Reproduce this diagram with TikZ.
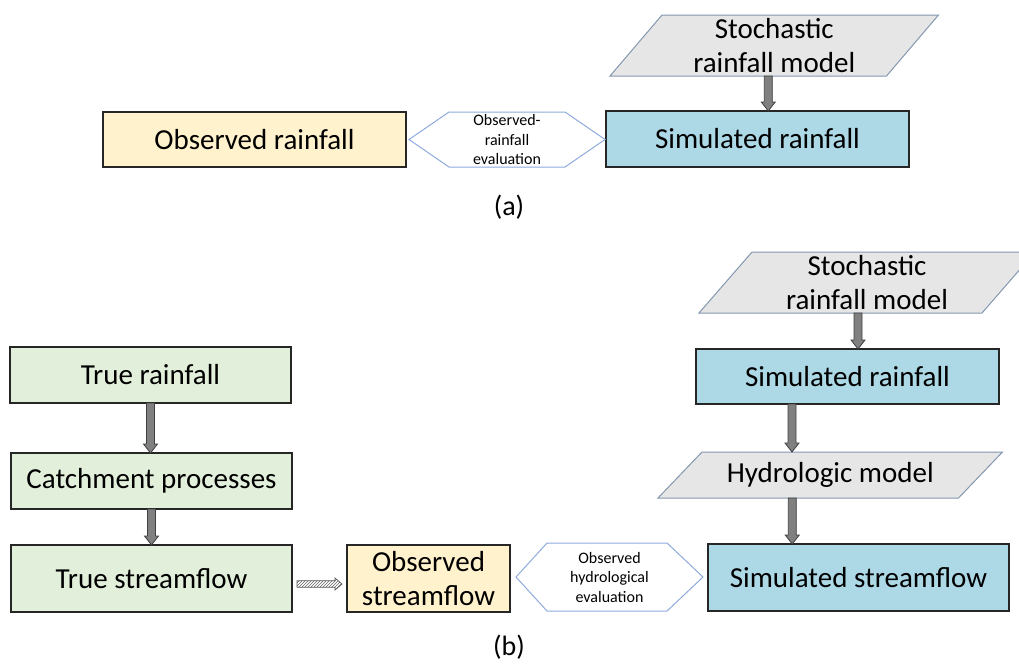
\documentclass[tikz,border=0pt]{standalone}
\usepackage{fontspec}
\setmainfont{Carlito}
\usetikzlibrary{calc,patterns,backgrounds}
\definecolor{obsY}{HTML}{FFF2CC}
\definecolor{simB}{HTML}{ADD8E6}
\definecolor{trueG}{HTML}{E2EFDA}
\definecolor{paraF}{HTML}{E7E6E6}
\definecolor{paraD}{HTML}{8497B0}
\definecolor{hexD}{HTML}{8FAADC}
\definecolor{arrF}{HTML}{808080}
\definecolor{arrD}{HTML}{404040}
\tikzset{
  box/.style={draw=black!85, line width=1.5pt, inner sep=0pt, outer sep=0pt, align=center, font=\fontsize{29}{34}\selectfont},
  para/.style={inner sep=0pt, outer sep=0pt, align=center, font=\fontsize{29}{34}\selectfont},
  paraline/.style={fill=paraF, draw=paraD, line width=1pt},
  hexnode/.style={inner sep=0pt, outer sep=0pt, align=center, font=\fontsize{16}{19.5}\selectfont},
  hexline/.style={draw=hexD, line width=1pt},
  blk/.style={fill=arrF, draw=arrD, line width=0.8pt},
  hatch/.style={pattern=north east lines, pattern color=gray!80!black, draw=gray!70!black, line width=0.7pt},
  lbl/.style={font=\fontsize{28}{32}\selectfont}
}
\newcommand\blkdown[2]{%
  \filldraw[blk] let \p1=#1, \p2=#2 in
    (\x1-4pt,\y1) -- (\x1+4pt,\y1) -- (\x1+4pt,\y2+9pt) -- (\x1+7pt,\y2+9pt) --
    (\x1,\y2) -- (\x1-7pt,\y2+9pt) -- (\x1-4pt,\y2+9pt) -- cycle;}
\begin{document}
\begin{tikzpicture}[x=1pt,y=-1pt]
\useasboundingbox (0,0) rectangle (1019,664);
% ---------- (a)
\node[box, fill=obsY, minimum width=303pt, minimum height=55pt] (obsR) at (254.5,139.5) {Observed rainfall};
\node[box, fill=simB, minimum width=303pt, minimum height=56pt] (simRa) at (757.5,139) {Simulated rainfall};
\node[para, minimum width=276.5pt, minimum height=61pt] (stochA) at (774.25,45.5) {Stochastic\\rainfall model};
\node[hexnode, minimum width=196pt, minimum height=55pt] (hexA) at (507,139.5) {Observed-\\rainfall\\evaluation};
\node[lbl] (la) at (509,207) {(a)};
% ---------- (b)
\node[para, minimum width=283pt, minimum height=61pt] (stochB) at (867,282.5) {Stochastic\\rainfall model};
\node[box, fill=simB, minimum width=303pt, minimum height=55pt] (simRb) at (847.5,376.5) {Simulated rainfall};
\node[para, minimum width=300.5pt, minimum height=46pt] (hydro) at (830.25,475) {Hydrologic model};
\node[box, fill=simB, minimum width=301pt, minimum height=67pt] (simS) at (858.5,577.5) {Simulated streamflow};
\node[hexnode, minimum width=187pt, minimum height=68pt] (hexB) at (609.5,577) {Observed\\hydrological\\evaluation};
\node[box, fill=obsY, minimum width=163pt, minimum height=67pt] (obsS) at (428.5,578.5) {Observed\\streamflow};
\node[box, fill=trueG, minimum width=281pt, minimum height=56pt] (trueR) at (150.5,375) {True rainfall};
\node[box, fill=trueG, minimum width=281pt, minimum height=56pt] (catch) at (151.5,481) {Catchment processes};
\node[box, fill=trueG, minimum width=281pt, minimum height=67pt] (trueS) at (151.5,578.5) {True streamflow};
\node[lbl] (lb) at (509,647) {(b)};
% parallelograms
\begin{pgfonlayer}{background}
\foreach \n/\s in {stochA/26, stochB/26.5, hydro/22}
  \draw[paraline] ([xshift=\s pt]\n.north west) -- ([xshift=\s pt]\n.north east) -- ([xshift=-\s pt]\n.south east) -- ([xshift=-\s pt]\n.south west) -- cycle;
\end{pgfonlayer}
% hexagons
\draw[hexline] (hexA.west) -- ([xshift=40pt]hexA.north west) -- ([xshift=-40pt]hexA.north east) -- (hexA.east) -- ([xshift=-40pt]hexA.south east) -- ([xshift=40pt]hexA.south west) -- cycle;
\draw[hexline] (hexB.west) -- ([xshift=31pt]hexB.north west) -- ([xshift=-36pt]hexB.north east) -- (hexB.east) -- ([xshift=-36pt]hexB.south east) -- ([xshift=31pt]hexB.south west) -- cycle;
% block arrows
\blkdown{([xshift=-6pt]stochA.south)}{(simRa.north)}
\blkdown{([xshift=-9pt]stochB.south)}{(simRb.north)}
\blkdown{([xshift=-55.5pt]simRb.south)}{(hydro.north)}
\blkdown{([xshift=-38pt]hydro.south)}{(simS.north)}
\blkdown{(trueR.south)}{(catch.north)}
\blkdown{(catch.south)}{(trueS.north)}
% hatched arrow
\filldraw[hatch] let \p1=(trueS.east), \p2=(obsS.west) in
  (\x1+5pt,\y1-2.2pt) -- (\x2-12pt,\y1-2.2pt) -- (\x2-12pt,\y1+0.5pt) -- (\x2-5pt,\y1-5.5pt) --
  (\x2-12pt,\y1-11.5pt) -- (\x2-12pt,\y1-8.8pt) -- (\x1+5pt,\y1-8.8pt) -- cycle;
\end{tikzpicture}
\end{document}
